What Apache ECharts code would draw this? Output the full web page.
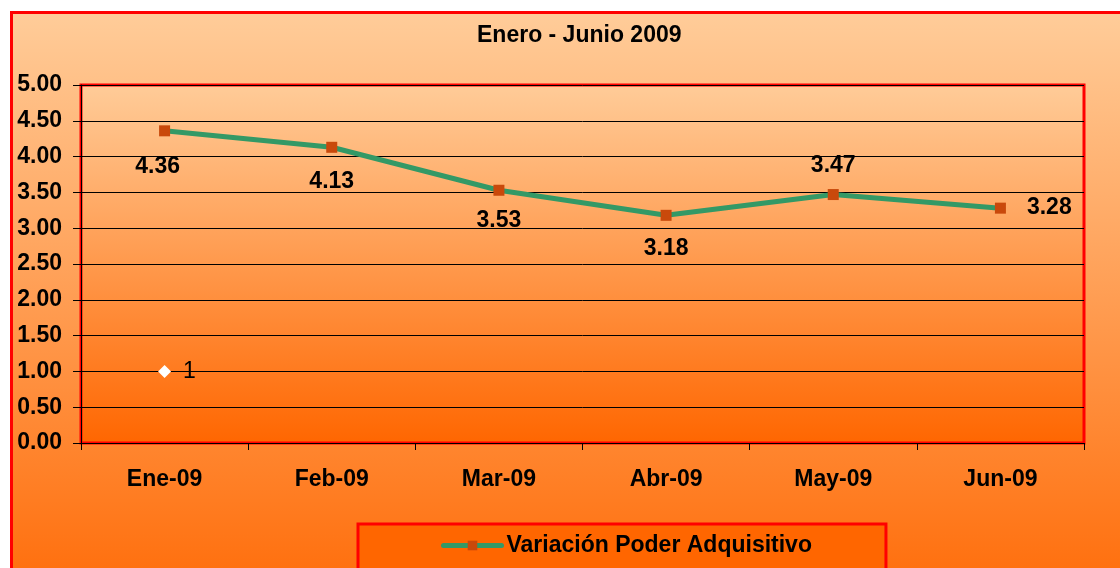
<!DOCTYPE html>
<html>
<head>
<meta charset="utf-8">
<script src="https://cdn.jsdelivr.net/npm/echarts@6/dist/echarts.min.js"></script>
<style>
  html, body { margin: 0; padding: 0; background: #ffffff; overflow: hidden; }
  #frame { position: absolute; left: 10px; top: 11px; width: 1200px; height: 620px;
           border: 3px solid #ff0000; background: linear-gradient(to bottom, #ffcc99 0%, #ff6600 100%); }
  #chart { position: absolute; left: 0; top: 0; width: 1120px; height: 568px; }
</style>
</head>
<body>
<div id="frame"></div>
<div id="chart"></div>
<script>
const categories = ['Ene-09', 'Feb-09', 'Mar-09', 'Abr-09', 'May-09', 'Jun-09'];
const values = [4.36, 4.13, 3.53, 3.18, 3.47, 3.28];
const markerValues = [1, '-', '-', '-', '-', '-'];
const seriesName = 'Variación Poder Adquisitivo';
const titleText = 'Enero - Junio 2009';

// label placement styling (not data)
const labelPos = ['bottom', 'bottom', 'bottom', 'bottom', 'top', 'right'];
const labelDist = [19, 17, 13, 16, 12, 21];

const font = "'Liberation Sans', Arial, sans-serif";
const FS = 23;
const chart = echarts.init(document.getElementById('chart'));

const mainData = values.map((v, i) => {
  const lbl = { position: labelPos[i], distance: labelDist[i] };
  if (i === 0) lbl.offset = [-7, 0];
  return { value: v, label: lbl };
});

chart.setOption({
  backgroundColor: 'transparent',
  animation: false,
  textStyle: { fontFamily: font },
  title: {
    text: titleText,
    left: 472, top: 19,
    textStyle: { fontFamily: font, fontSize: FS, fontWeight: 'bold', color: '#000' }
  },
  grid: {
    left: 81, top: 85, right: 36, bottom: 125,
    show: true,
    borderColor: '#ff0000', borderWidth: 3,
    backgroundColor: new echarts.graphic.LinearGradient(0, 0, 0, 1, [
      { offset: 0, color: '#ffcc99' }, { offset: 1, color: '#ff6600' }
    ])
  },
  legend: {
    data: [{ name: seriesName, lineStyle: { width: 5, color: '#339966', cap: 'round' } }],
    left: 358, top: 524,
    padding: [10, 74, 40, 83],
    backgroundColor: '#ff6600',
    borderColor: '#ff0000', borderWidth: 3,
    itemWidth: 58, itemHeight: 12, itemGap: 5,
    textStyle: { fontFamily: font, fontSize: FS, fontWeight: 'bold', color: '#000' }
  },
  xAxis: {
    type: 'category',
    data: categories,
    boundaryGap: true,
    axisLine: { show: true, lineStyle: { color: '#000', width: 1 } },
    axisTick: { show: true, length: 7, lineStyle: { color: '#000' } },
    axisLabel: { margin: 25, fontFamily: font, fontSize: FS, fontWeight: 'bold', color: '#000' },
    splitLine: { show: false }
  },
  yAxis: {
    type: 'value',
    min: 0, max: 5, interval: 0.5,
    axisLine: { show: true, lineStyle: { color: '#000', width: 1 } },
    axisTick: { show: true, length: 8, lineStyle: { color: '#000' } },
    axisLabel: { margin: 19, fontFamily: font, fontSize: FS, fontWeight: 'bold', color: '#000',
                 formatter: v => v.toFixed(2) },
    splitLine: { show: true, lineStyle: { color: '#000', width: 1 } }
  },
  series: [
    {
      name: seriesName,
      type: 'line',
      data: mainData,
      symbol: 'rect',
      symbolSize: 11,
      itemStyle: { color: '#c9490b' },
      lineStyle: { color: '#339966', width: 5 },
      label: { show: true, fontFamily: font, fontSize: FS, fontWeight: 'bold', color: '#000',
               formatter: p => Number(p.value).toFixed(2) },
      z: 3
    },
    {
      name: 'marker',
      type: 'line',
      data: markerValues,
      symbol: 'diamond',
      symbolSize: 13,
      showSymbol: true,
      itemStyle: { color: '#ffffff' },
      lineStyle: { width: 0 },
      label: { show: true, position: 'right', distance: 12, fontFamily: font, fontSize: FS,
               color: '#000', formatter: '{c}' },
      z: 3
    }
  ]
});
</script>
</body>
</html>
